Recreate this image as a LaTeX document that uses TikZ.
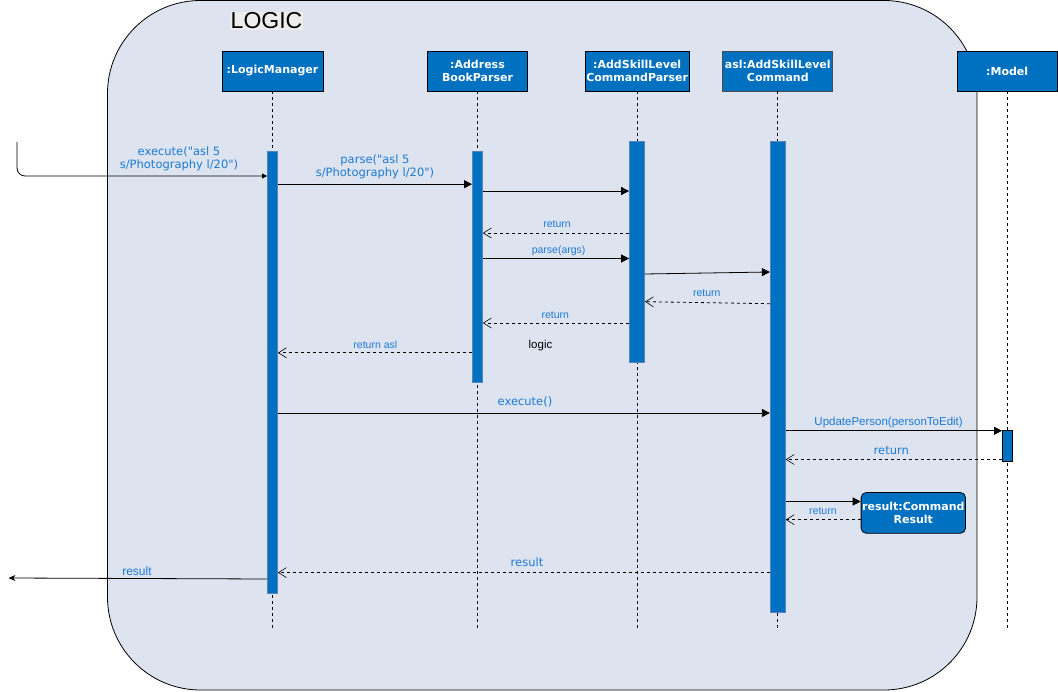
\documentclass[tikz,border=0pt]{standalone}
\usepackage{fontspec}
\setmainfont{DejaVu Sans}[Ligatures=TeXOff]
\newfontfamily\arialfont{Liberation Sans}
\usetikzlibrary{arrows.meta}

\definecolor{objblue}{RGB}{0,112,192}
\definecolor{msgblue}{RGB}{28,122,210}
\definecolor{logicbg}{RGB}{221,228,240}
\definecolor{baredge}{RGB}{90,130,190}

\begin{document}
\begin{tikzpicture}[x=1pt,y=-1pt,line width=0.8pt]
	\tikzstyle{obj}=[rectangle,draw=black,fill=objblue,text=white,font=\bfseries\fontsize{11}{13.5}\selectfont,align=center,minimum width=100pt,minimum height=40pt,inner sep=1pt]
	\tikzstyle{act}=[rectangle,draw=baredge,fill=objblue,minimum width=10pt,inner sep=0pt]
	\tikzstyle{life}=[dashed]
	\tikzstyle{call}=[-{Triangle[length=8pt,width=8pt]}]
	\tikzstyle{reply}=[dashed,-{Straight Barb[length=8pt,width=10pt,line width=0.6pt]}]
	\tikzstyle{lbl}=[text=msgblue,inner sep=0pt,align=center,font=\fontsize{11.5}{13.5}\selectfont]
	\tikzstyle{slbl}=[text=msgblue,inner sep=0pt,font=\arialfont\fontsize{10.5}{12}\selectfont]

	\useasboundingbox (0,0) rectangle (1058,692);
	\draw[fill=logicbg,rounded corners=93pt] (107.5,0.5) rectangle (977,690);
	\node[fill=black!7,inner sep=1pt,font=\arialfont\fontsize{23}{26}\selectfont] (title) at (266.5,21) {LOGIC};

	% objects
	\node[obj,minimum width=101pt] (lm) at (272.5,71) {:LogicManager};
	\node[obj] (abp) at (477.5,71) {:Address\\BookParser};
	\node[obj] (asp) at (637.2,71) {:AddSkillLevel\\CommandParser};
	\node[obj,minimum width=110pt,draw=black!70] (asl) at (777.8,71) {asl:AddSkillLevel\\Command};
	\node[obj] (model) at (1007.2,71) {:Model};

	\foreach \o in {lm,abp,asp,asl,model}
		\draw[life] (\o.south) -- (\o.south |- 0,630);

	% activations
	\node[act,minimum height=442pt] (lmbar) at (272.5,372) {};
	\node[act,minimum height=231.6pt] (abpbar) at (477.4,266.8) {};
	\node[act,minimum width=15pt,minimum height=220.3pt] (aspbar) at (637,251.9) {};
	\node[act,minimum width=15pt,minimum height=470.6pt] (aslbar) at (777.8,377) {};
	\node[act,draw=black,minimum height=30.3pt] (modelbar) at (1007.4,446) {};
	\node[obj,rounded corners=5pt,minimum height=40.7pt] (res) at (913.3,512.9) {result:Command\\Result};

	% messages
	\coordinate (in) at (17,142);
	\draw[-{Triangle[length=5pt,width=5pt]},rounded corners=8pt] (in) |- (lmbar.west |- 0,176);
	\node[lbl] (m1) at (179,159) {execute("asl 5\\s/Photography l/20")};

	\draw[call] (lmbar.east |- 0,184.2) -- (abpbar.west |- 0,184.2);
	\node[lbl] (m2) at (375,167) {parse("asl 5\\s/Photography l/20")};

	\draw[call] (abpbar.east |- 0,191) -- (aspbar.west |- 0,191);

	\draw[reply] (aspbar.west |- 0,233) -- (abpbar.east |- 0,233);
	\node[slbl] (r1) at (557,224.6) {return};

	\draw[call] (abpbar.east |- 0,258.5) -- (aspbar.west |- 0,258.5);
	\node[slbl] (m3) at (558.6,250.5) {parse(args)};

	\draw[call] (aspbar.east |- 0,274) -- (aslbar.west |- 0,272);

	\draw[reply] (aslbar.west |- 0,303.7) -- (aspbar.east |- 0,301.7);
	\node[slbl] (r2) at (706.8,292.9) {return};

	\draw[reply] (aspbar.west |- 0,323) -- (abpbar.east |- 0,323);
	\node[slbl] (r3) at (555.3,315.2) {return};

	\node[inner sep=0pt,font=\arialfont\fontsize{11.5}{13}\selectfont] (note) at (540.5,345.8) {logic};

	\draw[reply] (abpbar.west |- 0,352.8) -- (lmbar.east |- 0,352.8);
	\node[slbl] (r4) at (375.3,344.4) {return asl};

	\draw[call] (lmbar.east |- 0,413) -- (aslbar.west |- 0,413);
	\node[lbl] (m4) at (525,402) {execute()};

	\draw[call] (aslbar.east |- 0,430.8) -- (modelbar.west |- 0,430.8);
	\node[slbl,font=\arialfont\fontsize{11.5}{13}\selectfont] (m5) at (888.6,422.1) {UpdatePerson(personToEdit)};

	\draw[reply] (modelbar.west |- 0,459.5) -- (aslbar.east |- 0,459.5);
	\node[lbl] (r5) at (891.3,450.7) {return};

	\draw[call] (aslbar.east |- 0,501.5) -- (res.west |- 0,501.5);
	\draw[reply] (res.west |- 0,519.7) -- (aslbar.east |- 0,519.7);
	\node[slbl] (r6) at (822.9,511.3) {return};

	\draw[reply] (aslbar.west |- 0,572.6) -- (lmbar.east |- 0,572.6);
	\node[lbl] (r7) at (527,562) {result};

	\coordinate (out) at (8.5,578);
	\draw[-{Stealth[length=7pt,width=6pt]}] (lmbar.west |- 0,579) -- (out);
	\node[slbl,font=\arialfont\fontsize{12}{14}\selectfont] (r8) at (137,571.3) {result};
\end{tikzpicture}
\end{document}
